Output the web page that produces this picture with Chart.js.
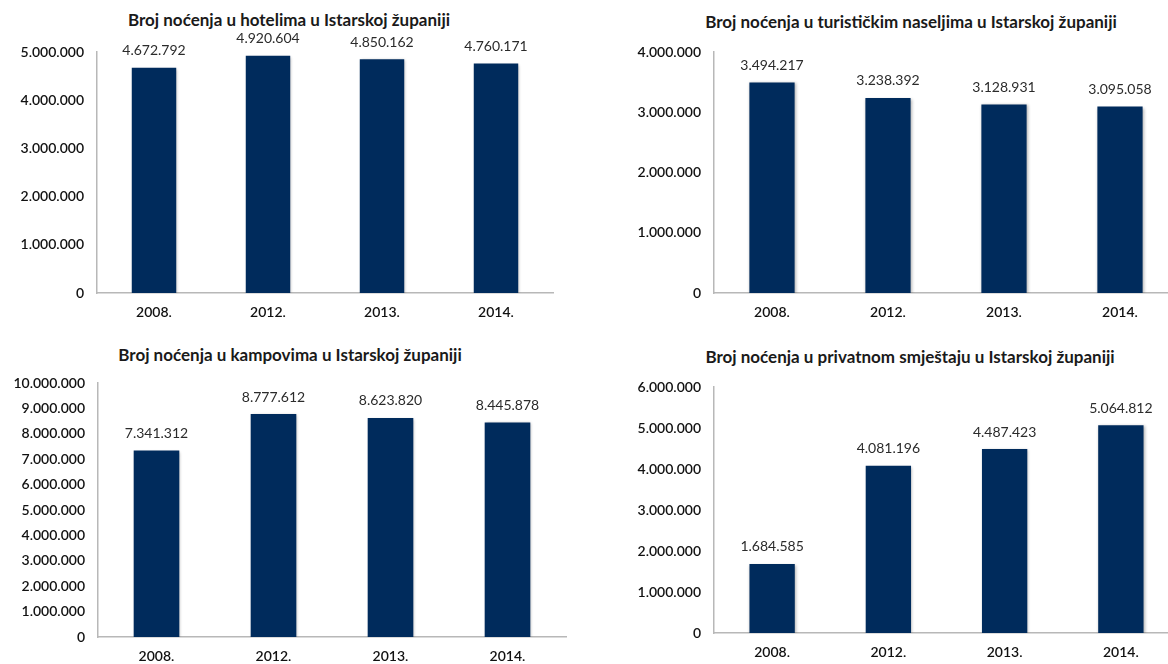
<!DOCTYPE html>
<html lang="hr">
<head>
<meta charset="UTF-8">
<title>Broj noćenja u Istarskoj županiji</title>
<script src="https://cdn.jsdelivr.net/npm/chart.js"></script>
<style>
  html, body { margin: 0; padding: 0; background: #fff; }
  body { position: relative; width: 1168px; height: 664px; overflow: hidden; }
  .title { position: absolute; width: 600px; text-align: center; font: bold 17px Lato, sans-serif; line-height: 20px; color: #1a1a1a; white-space: nowrap; }
  canvas { position: absolute; }
</style>
</head>
<body>
<div class="title" id="title1"></div>
<div class="title" id="title2"></div>
<div class="title" id="title3"></div>
<div class="title" id="title4"></div>
<canvas id="chart1"></canvas>
<canvas id="chart2"></canvas>
<canvas id="chart3"></canvas>
<canvas id="chart4"></canvas>
<script>
// data
const years = ['2008.', '2012.', '2013.', '2014.'];
const hoteli = [4672792, 4920604, 4850162, 4760171];
const turistickaNaselja = [3494217, 3238392, 3128931, 3095058];
const kampovi = [7341312, 8777612, 8623820, 8445878];
const privatniSmjestaj = [1684585, 4081196, 4487423, 5064812];
const yMax = [5000000, 4000000, 10000000, 6000000];
const yStep = 1000000;
const titles = [
  'Broj noćenja u hotelima u Istarskoj županiji',
  'Broj noćenja u turističkim naseljima u Istarskoj županiji',
  'Broj noćenja u kampovima u Istarskoj županiji',
  'Broj noćenja u privatnom smještaju u Istarskoj županiji'
];

// layout of each panel on the page
const boxes = [
  { left: 0,   top: 0,   width: 584, height: 332, plotLeft: 97,  plotRight: 553,  plotTop: 52,  plotBottom: 293, titleX: 289, titleY: 20 },
  { left: 584, top: 0,   width: 620, height: 332, plotLeft: 714, plotRight: 1178, plotTop: 52,  plotBottom: 293, titleX: 911, titleY: 22 },
  { left: 0,   top: 332, width: 584, height: 345, plotLeft: 98,  plotRight: 566,  plotTop: 383, plotBottom: 637, titleX: 290, titleY: 355 },
  { left: 584, top: 332, width: 620, height: 345, plotLeft: 714, plotRight: 1179, plotTop: 387, plotBottom: 633, titleX: 910, titleY: 357 }
];

const barColor = '#002b5c';

function fmt(n) {
  return String(n).replace(/\B(?=(\d{3})+(?!\d))/g, '.');
}

Chart.defaults.font.family = 'Lato, sans-serif';
Chart.defaults.font.size = 14;
Chart.defaults.color = '#111';

const barShadow = {
  id: 'barShadow',
  beforeDatasetsDraw(chart) {
    const c = chart.ctx;
    c.save();
    c.shadowColor = 'rgba(0,0,0,0.3)';
    c.shadowBlur = 3;
    c.shadowOffsetX = 1;
    c.shadowOffsetY = 1;
  },
  afterDatasetsDraw(chart) {
    chart.ctx.restore();
  }
};

const valueLabels = {
  id: 'valueLabels',
  afterDatasetsDraw(chart) {
    const ctx = chart.ctx;
    const meta = chart.getDatasetMeta(0);
    const data = chart.data.datasets[0].data;
    ctx.save();
    ctx.font = '14px Lato, sans-serif';
    ctx.fillStyle = '#2b2b2b';
    ctx.textAlign = 'center';
    ctx.textBaseline = 'middle';
    meta.data.forEach((bar, i) => {
      ctx.fillText(fmt(data[i]), bar.x, bar.y - 17);
    });
    ctx.restore();
  }
};

function makeChart(n, values) {
  const b = boxes[n];
  const t = document.getElementById('title' + (n + 1));
  t.textContent = titles[n];
  t.style.left = (b.titleX - 300) + 'px';
  t.style.top = (b.titleY - 10) + 'px';

  const cv = document.getElementById('chart' + (n + 1));
  cv.width = b.width;
  cv.height = b.height;
  cv.style.left = b.left + 'px';
  cv.style.top = b.top + 'px';
  cv.style.width = b.width + 'px';
  cv.style.height = b.height + 'px';

  return new Chart(cv, {
    type: 'bar',
    data: {
      labels: years,
      datasets: [{
        data: values,
        backgroundColor: barColor,
        categoryPercentage: 1,
        barPercentage: 0.39
      }]
    },
    options: {
      responsive: false,
      animation: false,
      layout: {
        padding: { top: b.plotTop - b.top, right: b.left + b.width - b.plotRight, bottom: 0, left: 0 }
      },
      plugins: { legend: { display: false }, tooltip: { enabled: false } },
      scales: {
        x: {
          grid: { display: false, drawTicks: false },
          border: { display: true, color: '#b8b8b8', width: 1.5 },
          ticks: { padding: 11, color: '#111', font: { weight: 600 } },
          afterFit(s) { s.height = b.top + b.height - b.plotBottom; }
        },
        y: {
          min: 0,
          max: yMax[n],
          grid: { display: false, drawTicks: false },
          border: { display: true, color: '#b8b8b8', width: 1.5 },
          ticks: { stepSize: yStep, padding: 13, color: '#111', font: { weight: 600 }, callback: v => fmt(v) },
          afterFit(s) { s.width = b.plotLeft - b.left; }
        }
      }
    },
    plugins: [barShadow, valueLabels]
  });
}

makeChart(0, hoteli);
makeChart(1, turistickaNaselja);
makeChart(2, kampovi);
makeChart(3, privatniSmjestaj);
</script>
</body>
</html>
